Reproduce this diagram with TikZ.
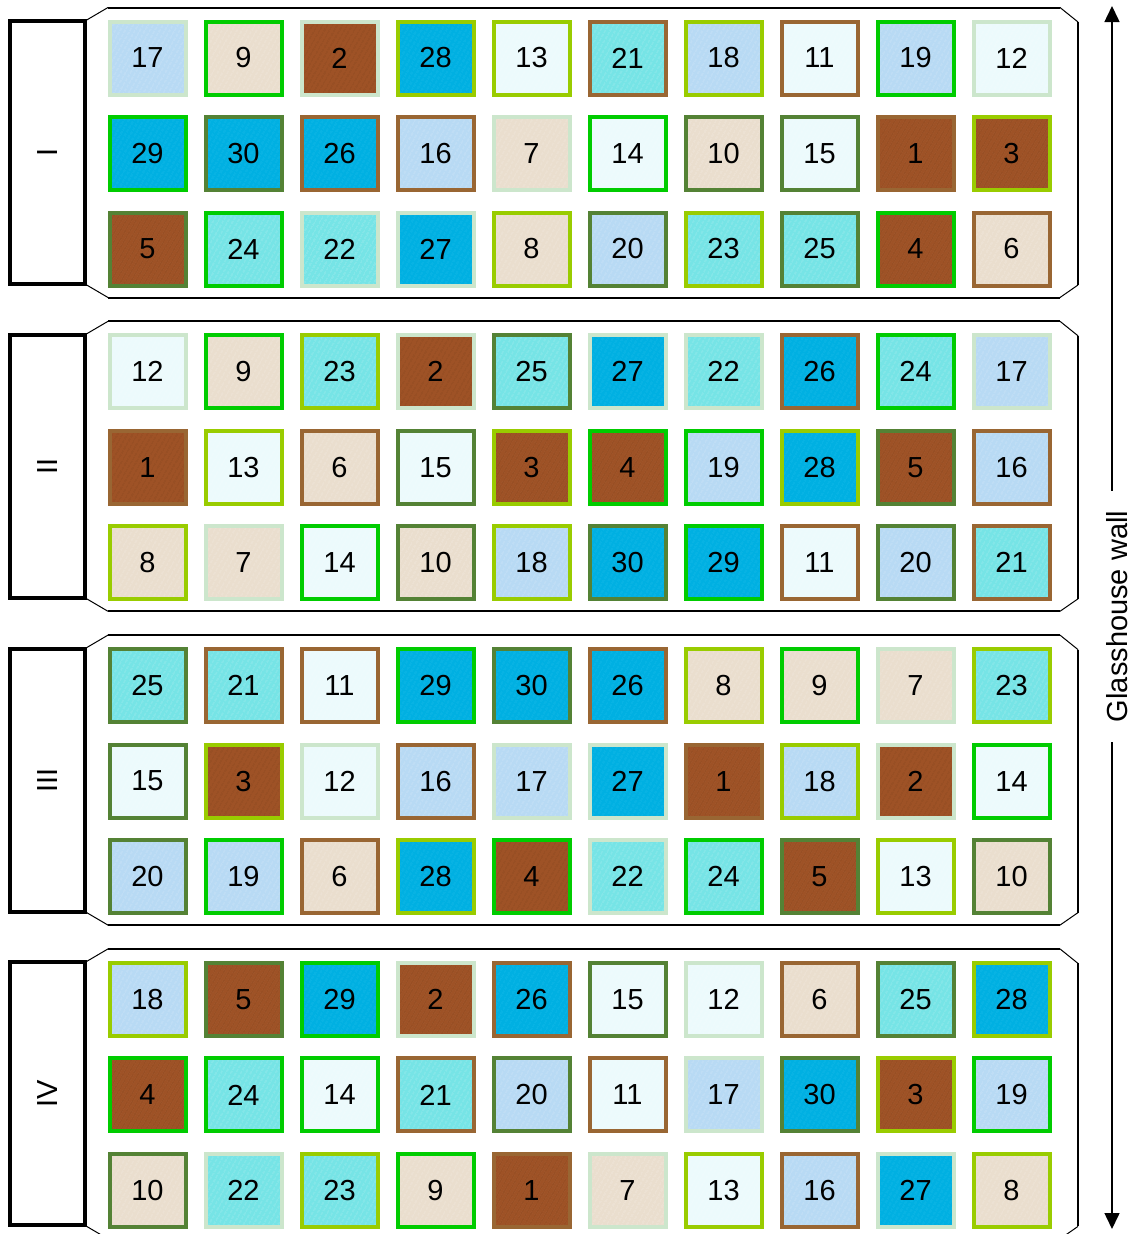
\documentclass[tikz,border=0pt]{standalone}
\usepackage{fontspec}
\setmainfont{Liberation Sans}
\usetikzlibrary{arrows.meta,patterns.meta}
% fill colours by treatment group (1-5, 6-10, ..., 26-30)
\definecolor{fillc0}{RGB}{158,82,38}
\definecolor{fillc1}{RGB}{234,222,206}
\definecolor{fillc2}{RGB}{236,250,252}
\definecolor{fillc3}{RGB}{184,218,244}
\definecolor{fillc4}{RGB}{118,228,230}
\definecolor{fillc5}{RGB}{0,176,226}
% stripe colours of the hatching
\definecolor{hatchc0}{RGB}{110,55,20}
\definecolor{hatchc1}{RGB}{255,255,255}
\definecolor{hatchc2}{RGB}{255,255,255}
\definecolor{hatchc3}{RGB}{255,255,255}
\definecolor{hatchc4}{RGB}{255,255,255}
\definecolor{hatchc5}{RGB}{70,205,245}
% border colours by number mod 5
\definecolor{bordc0}{RGB}{84,130,53}
\definecolor{bordc1}{RGB}{153,102,51}
\definecolor{bordc2}{RGB}{204,230,204}
\definecolor{bordc3}{RGB}{153,204,0}
\definecolor{bordc4}{RGB}{0,204,0}
\tikzset{
  cell/.style n args={3}{draw=#3, line width=4pt, minimum width=76pt, minimum height=73pt,
    inner sep=0pt, outer sep=0pt, font=\fontsize{29}{34}\selectfont,
    preaction={fill=#1},
    preaction={fill opacity=0.3,
      pattern={Lines[angle=60,distance=4pt,line width=0.9pt]}, pattern color=#2}},
  labbox/.style={draw=black, line width=4pt, minimum width=75pt, minimum height=263pt,
    inner sep=0pt, outer sep=0pt, font=\fontsize{29}{34}\selectfont},
  edgeline/.style={line width=2pt, black},
  chamfer/.style={line width=1pt, black},
  wallarrow/.style={line width=1.5pt, -{Triangle[width=15pt,length=16pt]}},
  walltext/.style={rotate=90, inner xsep=20pt, inner ysep=2pt, font=\fontsize{29}{34}\selectfont}
}
\begin{document}
\begin{tikzpicture}[x=1pt,y=-1pt]
\useasboundingbox (0,0) rectangle (1136,1234);
\clip (0,0) rectangle (1136,1234);
\foreach \b/\rom/\Y/\nums in {
  1/I/7.5/{17,9,2,28,13,21,18,11,19,12,29,30,26,16,7,14,10,15,1,3,5,24,22,27,8,20,23,25,4,6},
  2/II/321.3/{12,9,23,2,25,27,22,26,24,17,1,13,6,15,3,4,19,28,5,16,8,7,14,10,18,30,29,11,20,21},
  3/III/635.1/{25,21,11,29,30,26,8,9,7,23,15,3,12,16,17,27,1,18,2,14,20,19,6,28,4,22,24,5,13,10},
  4/IV/948.9/{18,5,29,2,26,15,12,6,25,28,4,24,14,21,20,11,17,30,3,19,10,22,23,9,1,7,13,16,27,8}}
{
  \node[labbox] (lab\b) at (47.5,\Y+145) {\rotatebox{90}{\rom}};
  \foreach \n [count=\i from 0] in \nums {
    \pgfmathtruncatemacro\r{int(\i/10)}
    \pgfmathtruncatemacro\c{mod(\i,10)}
    \pgfmathtruncatemacro\g{int((\n-1)/5)}
    \pgfmathtruncatemacro\m{mod(\n,5)}
    \node[cell={fillc\g}{hatchc\g}{bordc\m}] (c\b-\r-\c) at (147.5+96*\c, \Y+50.5+95.5*\r) {\n};
  }
  \draw[chamfer] (lab\b.north east) -- (108,\Y);
  \draw[edgeline] (108,\Y) -- (1060,\Y);
  \draw[chamfer] (1060,\Y) -- (1078,\Y+14.5);
  \draw[edgeline] (1078,\Y+14.5) -- (1078,\Y+277.5);
  \draw[chamfer] (1078,\Y+277.5) -- (1060,\Y+290);
  \draw[edgeline] (1060,\Y+290) -- (108,\Y+290);
  \draw[chamfer] (108,\Y+290) -- (lab\b.south east);
}
\node[walltext] (wall) at (1117,616.5) {Glasshouse wall};
\coordinate (wtop) at (1112,6);
\coordinate (wbot) at (1112,1229);
\draw[wallarrow] (wall.east -| wtop) -- (wtop);
\draw[wallarrow] (wall.west -| wtop) -- (wbot);
\end{tikzpicture}
\end{document}
